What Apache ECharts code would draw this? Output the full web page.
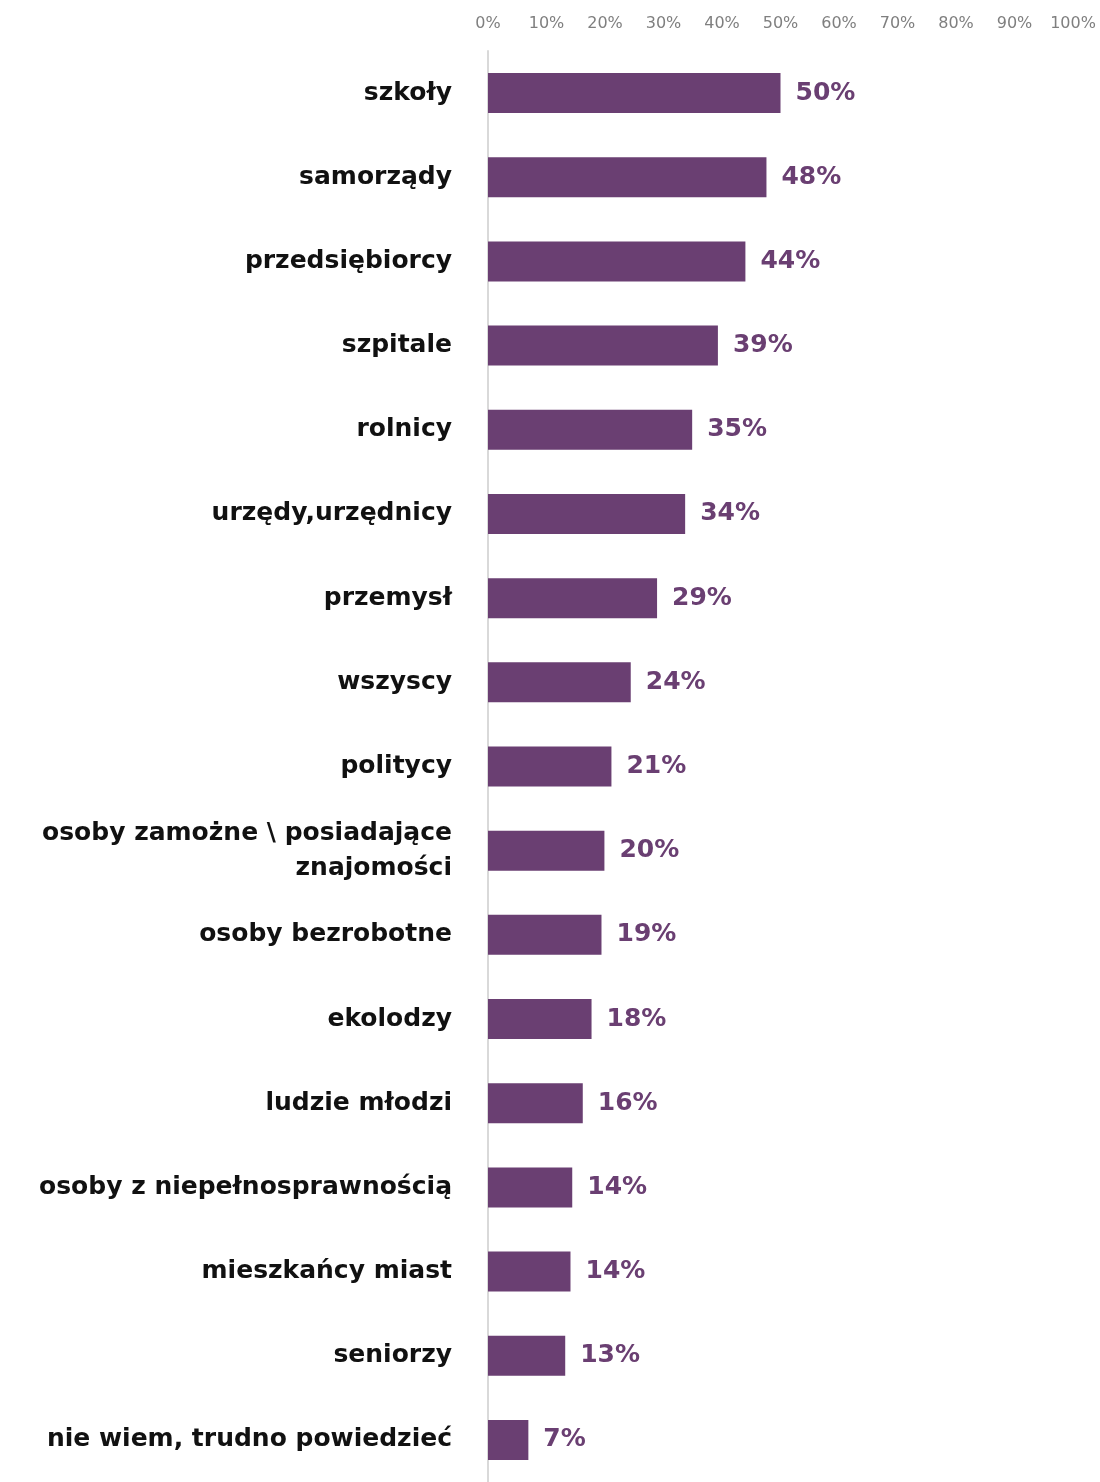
<!DOCTYPE html>
<html>
<head>
<meta charset="utf-8">
<script src="https://cdn.jsdelivr.net/npm/echarts@6/dist/echarts.min.js"></script>
<style>
html,body{margin:0;padding:0;background:#fff;}
#c{width:1100px;height:1482px;}
</style>
</head>
<body>
<div id="c"></div>
<script>
const categories = [
  'szkoły','samorządy','przedsiębiorcy','szpitale','rolnicy','urzędy,urzędnicy',
  'przemysł','wszyscy','politycy','osoby zamożne \\ posiadające\nznajomości',
  'osoby bezrobotne','ekolodzy','ludzie młodzi','osoby z niepełnosprawnością',
  'mieszkańcy miast','seniorzy','nie wiem, trudno powiedzieć'
];
const values = [50, 47.6, 44, 39.3, 34.9, 33.7, 28.9, 24.4, 21.1, 19.9, 19.4, 17.7, 16.2, 14.4, 14.1, 13.2, 6.9];
const xTicks = [0,10,20,30,40,50,60,70,80,90,100];

const chart = echarts.init(document.getElementById('c'), null, {renderer:'canvas'});
const FONT = 'DejaVu Sans';
chart.setOption({
  animation:false,
  backgroundColor:'#fff',
  grid:{left:488, right:27, top:51, height:1436, containLabel:false},
  xAxis:{
    type:'value', position:'top', min:xTicks[0], max:xTicks[xTicks.length-1], interval:10,
    axisLine:{show:false}, axisTick:{show:false}, splitLine:{show:false},
    axisLabel:{formatter:v=>v+'%', color:'#7f7f7f', fontFamily:FONT, fontSize:16, margin:19}
  },
  yAxis:{
    type:'category', inverse:true, data:categories,
    axisLine:{show:true, lineStyle:{color:'#d9d9d9', width:2}},
    axisTick:{show:false},
    axisLabel:{color:'#111', fontFamily:FONT, fontWeight:'bold', fontSize:25, margin:36, lineHeight:35, align:'right', padding:[4,0,0,0]}
  },
  series:[{
    type:'bar', data:values, barWidth:40,
    itemStyle:{color:'#6a3f72'},
    label:{show:true, position:'right', distance:15, formatter:p=>Math.round(p.value)+'%',
      color:'#6a3f72', fontFamily:FONT, fontWeight:'bold', fontSize:25, padding:[3,0,0,0]}
  }]
});
</script>
</body>
</html>
